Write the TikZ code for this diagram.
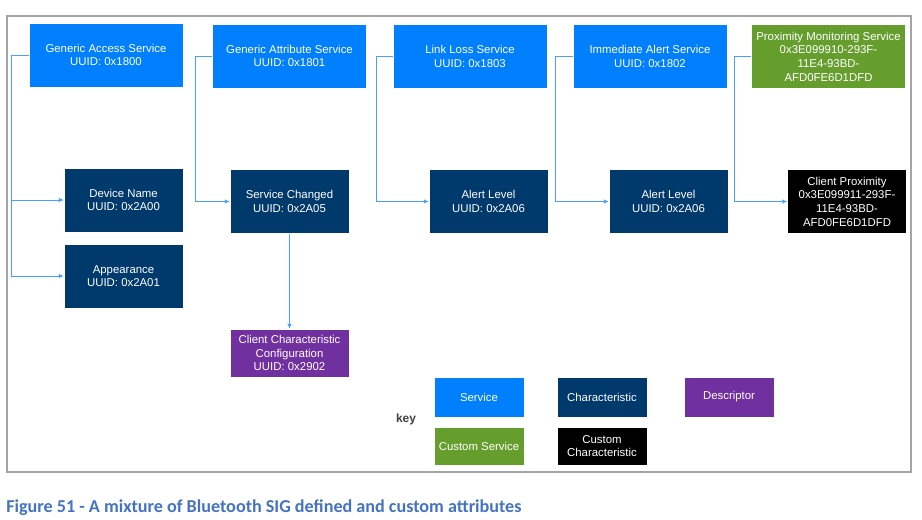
\documentclass[tikz,border=0pt]{standalone}
\usepackage{fontspec}
\setmainfont{Liberation Sans}
\newfontfamily\captionfont{Carlito}
\usepackage{xcolor}
\usetikzlibrary{arrows.meta}

\definecolor{svcblue}{RGB}{0,128,255}
\definecolor{chrnavy}{RGB}{0,57,107}
\definecolor{descpurple}{RGB}{112,48,160}
\definecolor{custgreen}{RGB}{102,158,46}
\definecolor{linkblue}{RGB}{70,160,255}
\definecolor{framegray}{RGB}{165,165,165}
\definecolor{capblue}{RGB}{68,114,196}

\tikzset{
  box/.style={draw=white, line width=0.3pt, text=white, align=center, inner sep=1pt,
    font=\fontsize{8.1}{9.7}\selectfont},
  svc/.style={box, fill=svcblue, minimum width=3.85cm, minimum height=1.6cm},
  csvc/.style={box, fill=custgreen, minimum width=3.85cm, minimum height=1.6cm},
  chr/.style={box, fill=chrnavy, minimum width=2.975cm, minimum height=1.6cm},
  cchr/.style={box, fill=black, minimum width=2.975cm, minimum height=1.6cm},
  desc/.style={box, fill=descpurple, minimum width=2.975cm, minimum height=1.2cm},
  keybox/.style={box, minimum width=2.25cm, minimum height=1cm},
  link/.style={draw=linkblue, line width=0.7pt, -{Latex[length=3.5pt,width=3.2pt]}}
}

\begin{document}
\begin{tikzpicture}[x=0.025cm, y=-0.025cm]
\useasboundingbox (0,0) rectangle (922,520);

\draw[framegray, line width=0.8pt] (7,16) rectangle (911,472);		% Rahmen

% services
\node[svc] (gas) at (106,55) {Generic Access Service\\UUID:~0x1800};
\node[svc] (gatt) at (289.5,56) {Generic Attribute Service\\UUID:~0x1801};
\node[svc] (lls) at (470,56.5) {Link Loss Service\\UUID:~0x1803};
\node[svc] (ias) at (650,56.5) {Immediate Alert Service\\UUID:~0x1802};
\node[csvc] (pms) at (828.5,56.5) {Proximity Monitoring Service\\0x3E099910-293F-\\11E4-93BD-\\AFD0FE6D1DFD};

% characteristics
\node[chr] (devname) at (123.5,200) {Device Name\\UUID:~0x2A00};
\node[chr] (appear) at (123.5,276) {Appearance\\UUID:~0x2A01};
\node[chr] (svcchg) at (289.5,201.5) {Service Changed\\UUID:~0x2A05};
\node[chr] (alertA) at (488.5,201.5) {Alert Level\\UUID:~0x2A06};
\node[chr] (alertB) at (668.5,201.5) {Alert Level\\UUID:~0x2A06};
\node[cchr] (cprox) at (847,201.5) {Client Proximity\\0x3E099911-293F-\\11E4-93BD-\\AFD0FE6D1DFD};

% descriptor
\node[desc] (cccd) at (289.5,353) {Client Characteristic\\Configuration\\UUID:~0x2902};

% connectors
\draw[link] (gas.west) -- ++(-17,0) |- (devname.west);
\draw[link] (gas.west) -- ++(-17,0) |- (appear.west);
\draw[link] (gatt.west) -- ++(-17,0) |- (svcchg.west);
\draw[link] (svcchg.south) -- (cccd.north);
\draw[link] (lls.west) -- ++(-16,0) |- (alertA.west);
\draw[link] (ias.west) -- ++(-17,0) |- (alertB.west);
\draw[link] (pms.west) -- ++(-17,0) |- (cprox.west);

% key
\node[font=\fontsize{8.5}{9.7}\selectfont\bfseries, text=black!75] (keylbl) at (406,419) {key};
\node[keybox, fill=svcblue] (keysvc) at (479,397) {Service};
\node[keybox, fill=chrnavy] (keychr) at (602,397) {Characteristic};
\node[keybox, fill=descpurple] (keydesc) at (729,397) {Descriptor};
\node[keybox, fill=custgreen, minimum height=0.95cm] (keycsvc) at (479,446) {Custom Service};
\node[keybox, fill=black, minimum height=0.95cm] (keycchr) at (602,446) {Custom\\Characteristic};

% caption
\node[anchor=base west, inner sep=0pt, text=capblue, font=\captionfont\fontsize{12.9}{14}\selectfont\bfseries] (caption) at (6,512) {Figure 51 - A mixture of Bluetooth SIG defined and custom attributes};

\end{tikzpicture}
\end{document}
